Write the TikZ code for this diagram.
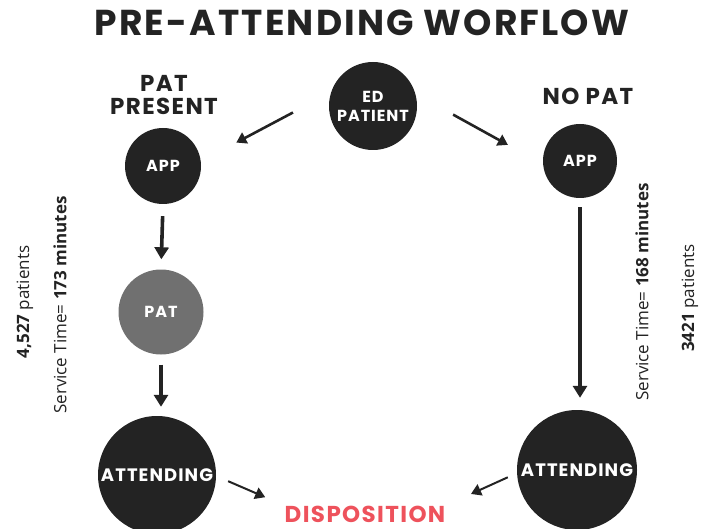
\documentclass[tikz,border=0pt]{standalone}
\usepackage{fontspec}
\setmainfont{Open Sans}
\newfontfamily\heavy[LetterSpace=6]{Poppins}
\usetikzlibrary{arrows.meta}
\definecolor{ink}{HTML}{232323}
\definecolor{patgray}{HTML}{707070}
\definecolor{dispred}{HTML}{EE525C}

\begin{document}
\begin{tikzpicture}[x=1pt,y=-1pt,
	blob/.style={circle, fill=ink, inner sep=0pt, text=white, align=center, font=\heavy\bfseries\fontsize{16}{19}\selectfont},
	head/.style={text=ink, align=center, inner sep=0pt, font=\heavy\bfseries\fontsize{23}{23}\selectfont},
	side/.style={rotate=90, text=ink, inner sep=0pt, font=\fontsize{17}{20}\selectfont},
	flow/.style={-{Triangle[length=10pt,width=12pt]}, line width=2.6pt, draw=ink},
	down/.style={-{Triangle[length=12pt,width=14pt]}, line width=3.6pt, draw=ink}]
	\useasboundingbox (0,0) rectangle (706,529);
	\node[text=ink, inner sep=0pt, font=\heavy\bfseries\fontsize{36}{36}\selectfont] (title) at (362,23) {PRE-ATTENDING WORFLOW};
	\node[blob, minimum size=88pt] (ed) at (373,106) {ED\\PATIENT};
	\node[head] (patp) at (164,95) {PAT\\PRESENT};
	\node[head] (nopat) at (588,96) {NO PAT};
	\node[blob, minimum size=76pt] (appl) at (163,166) {APP};
	\node[blob, minimum size=74pt] (appr) at (580,161) {APP};
	\node[blob, minimum size=85pt, fill=patgray] (pat) at (161,312) {PAT};
	\node[blob, minimum size=118pt, font=\heavy\bfseries\fontsize{18}{20}\selectfont] (attl) at (157,475) {ATTENDING};
	\node[blob, minimum size=120pt, font=\heavy\bfseries\fontsize{18}{20}\selectfont] (attr) at (577,470) {ATTENDING};
	\node[text=dispred, inner sep=0pt, font=\heavy\bfseries\fontsize{23}{23}\selectfont] (disp) at (365,514) {DISPOSITION};
	\node[side] (nl) at (25,302) {\textbf{4,527} patients};
	\node[side] (tl) at (60,305) {Service Time= \textbf{173 minutes}};
	\node[side] (tr) at (642,292) {Service Time= \textbf{168 minutes}};
	\node[side] (nr) at (690,298) {\textbf{3421} patients};
	\draw[flow, shorten <=43pt, shorten >=40pt] (ed.162) -- (appl.7);
	\draw[flow, shorten <=43pt, shorten >=40pt] (ed.16) -- (appr.185);
	\draw[down, shorten <=12pt, shorten >=10pt] (appl.south) -- (pat.north);
	\draw[down, shorten <=10pt, shorten >=9pt] (pat.south) -- (pat.south |- attl.north);
	\draw[down, shorten <=9pt, shorten >=12pt] (appr.south) -- (appr.south |- attr.north);
	\draw[flow, line width=2pt, shorten <=13pt, shorten >=21pt] (attl.-1) -- (disp.north west);
	\draw[flow, line width=2pt, shorten <=10pt, shorten >=28pt] (attr.183) -- (disp.north east);
\end{tikzpicture}
\end{document}
